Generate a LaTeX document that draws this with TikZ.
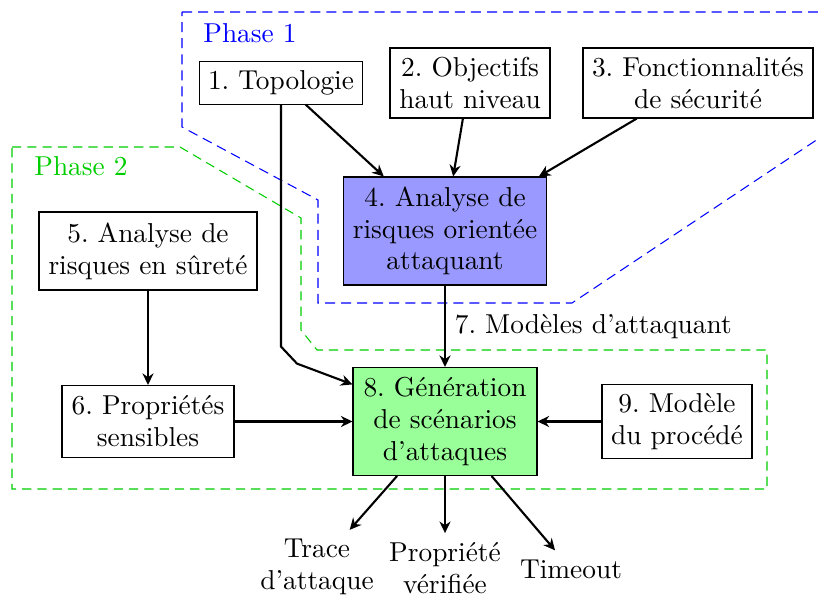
\documentclass[tikz,border=0pt]{standalone}
\usetikzlibrary{arrows.meta,calc}
\definecolor{phtwo}{RGB}{0,205,0}
\frenchspacing
\tikzset{
  every node/.style={font=\fontsize{10.4}{12.1}\selectfont},
  box/.style={draw, align=center, inner sep=3.33pt},
  arr/.style={thick, -{Stealth[length=4.4pt,width=4.2pt]}},
  phaseone/.style={blue, dash pattern=on 3.8pt off 2.3pt},
  phasetwo/.style={phtwo, dash pattern=on 3.5pt off 2.3pt},
  outtxt/.style={align=center, inner sep=3.33pt}
}
\begin{document}
\begin{tikzpicture}[x=0.38pt,y=-0.38pt]
\useasboundingbox (0,0) rectangle (818,599);
% phase boundaries
\draw[phaseone] (182,12) -- (821,12) -- (821,137) -- (572,303) -- (318,303) -- (318,200) -- (182,127) -- cycle;
\draw[phasetwo] (12,147) -- (180,147) -- (301,218) -- (301,330) -- (317,350) -- (767,350) -- (767,489) -- (12,489) -- cycle;
\node[blue] (p1) at (250,33) {Phase 1};
\node[phtwo] (p2) at (81,166) {Phase 2};
% nodes
\node[box, minimum width=162*0.38pt, minimum height=40*0.38pt] (n1) at (281,83) {1. Topologie};
\node[box, minimum width=160*0.38pt, minimum height=70*0.38pt] (n2) at (470,83) {2. Objectifs\\haut niveau};
\node[box, minimum width=230*0.38pt, minimum height=70*0.38pt] (n3) at (698,83) {3. Fonctionnalités\\de sécurité};
\node[box, fill=blue!40, minimum width=203*0.38pt, minimum height=108*0.38pt] (n4) at (445,231) {4. Analyse de\\risques orientée\\attaquant};
\node[box, minimum width=218*0.38pt, minimum height=78*0.38pt] (n5) at (148,251) {5. Analyse de\\risques en sûreté};
\node[box, minimum width=172*0.38pt, minimum height=72*0.38pt] (n6) at (148,421.5) {6. Propriétés\\sensibles};
\node[box, fill=green!40, minimum width=184*0.38pt, minimum height=108*0.38pt] (n8) at (445,421.5) {8. Génération\\de scénarios\\d'attaques};
\node[box, minimum width=150*0.38pt, minimum height=74*0.38pt] (n9) at (677,421.5) {9. Modèle\\du procédé};
\node[outtxt] (t1) at (317,567) {Trace\\d'attaque};
\node[outtxt] (t2) at (445,568) {Propriété\\vérifiée};
\node[outtxt] (t3) at (571,569) {Timeout};
% connectors
\draw[arr] ($(n1.south west)!0.65!(n1.south east)$) -- ($(n4.north west)!0.2!(n4.north east)$);
\draw[arr] ($(n2.south west)!0.456!(n2.south east)$) -- ($(n4.north west)!0.54!(n4.north east)$);
\draw[arr] ($(n3.south west)!0.235!(n3.south east)$) -- ($(n4.north west)!0.96!(n4.north east)$);
\draw[arr] (n1.south) -- ++(0,242) -- ++(16,17) -- ($(n8.north west)!0.16!(n8.south west)$);
\draw[arr] (n4.south) -- node[midway, right] {7. Modèles d'attaquant} (n8.north);
\draw[arr] (n5.south) -- (n6.north);
\draw[arr] (n6.east) -- (n8.west);
\draw[arr] (n9.west) -- (n8.east);
\draw[arr] (n8) -- (t1);
\draw[arr] (n8.south) -- (t2.north);
\draw[arr] (n8) -- (t3);
\end{tikzpicture}
\end{document}
